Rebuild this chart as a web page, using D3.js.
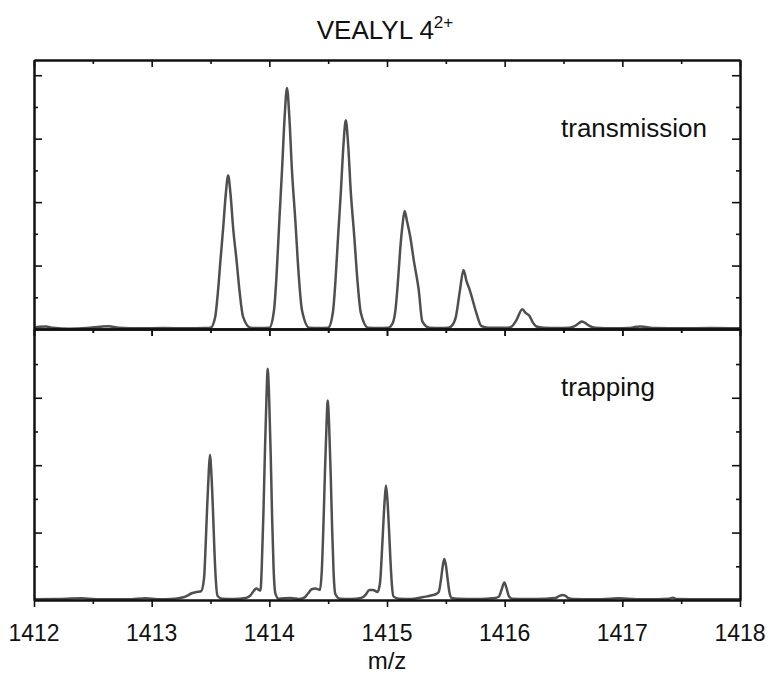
<!DOCTYPE html>
<html>
<head>
<meta charset="utf-8">
<script src="https://cdn.jsdelivr.net/npm/d3@7"></script>
<style>
  body { margin: 0; background: #fff; }
  text { font-family: "Liberation Sans", Arial, sans-serif; fill: #111; }
</style>
</head>
<body>
<div id="chart"></div>
<script>
// m/z values and intensities (arbitrary units)
const transMz = [
  1412.00, 1412.05, 1412.10, 1412.16, 1412.30, 1412.45, 1412.56, 1412.63, 1412.72, 1412.90,
  1413.10, 1413.30, 1413.45,
  1413.50, 1413.54, 1413.562, 1413.585, 1413.608, 1413.63, 1413.65, 1413.67, 1413.692, 1413.721, 1413.749, 1413.777, 1413.84, 1413.92,
  1414.00, 1414.04, 1414.062, 1414.085, 1414.108, 1414.13, 1414.15, 1414.17, 1414.192, 1414.221, 1414.249, 1414.277, 1414.34, 1414.42,
  1414.50, 1414.54, 1414.562, 1414.585, 1414.608, 1414.63, 1414.65, 1414.67, 1414.692, 1414.721, 1414.749, 1414.777, 1414.84, 1414.92,
  1415.01, 1415.05, 1415.072, 1415.095, 1415.112, 1415.132, 1415.15, 1415.17, 1415.198, 1415.227, 1415.27, 1415.30, 1415.36, 1415.45,
  1415.52, 1415.55, 1415.585, 1415.62, 1415.65, 1415.675, 1415.704, 1415.76, 1415.80, 1415.86,
  1416.03, 1416.06, 1416.10, 1416.15, 1416.18, 1416.21, 1416.24, 1416.27, 1416.33, 1416.45,
  1416.55, 1416.59, 1416.63, 1416.655, 1416.68, 1416.72, 1416.77, 1416.95,
  1417.05, 1417.12, 1417.15, 1417.20, 1417.28, 1417.50, 1417.75, 1418.00
];
const transInt = [
  0.02, 0.035, 0.04, 0.02, 0.005, 0.015, 0.035, 0.045, 0.02, 0.01,
  0.015, 0.01, 0.015,
  0.02, 0.19, 0.56, 1.09, 1.60, 2.13, 2.42, 2.13, 1.60, 1.09, 0.56, 0.19, 0.02, 0.015,
  0.02, 0.30, 0.87, 1.71, 2.51, 3.34, 3.80, 3.34, 2.51, 1.71, 0.87, 0.30, 0.02, 0.015,
  0.02, 0.26, 0.76, 1.48, 2.17, 2.90, 3.29, 2.90, 2.17, 1.48, 0.76, 0.26, 0.02, 0.015,
  0.02, 0.10, 0.30, 0.80, 1.25, 1.64, 1.86, 1.70, 1.45, 1.09, 0.61, 0.12, 0.02, 0.015,
  0.02, 0.05, 0.19, 0.61, 0.93, 0.76, 0.61, 0.25, 0.05, 0.02,
  0.02, 0.04, 0.14, 0.31, 0.25, 0.21, 0.10, 0.04, 0.02, 0.015,
  0.02, 0.04, 0.09, 0.12, 0.10, 0.05, 0.02, 0.01,
  0.015, 0.035, 0.04, 0.03, 0.015, 0.01, 0.015, 0.01
];

const trapMz = [
  1412.00, 1412.20, 1412.40, 1412.46, 1412.60, 1412.80, 1412.95, 1413.05, 1413.20, 1413.27,
  1413.30, 1413.34, 1413.38, 1413.42,
  1413.445, 1413.459, 1413.472, 1413.485, 1413.495, 1413.507, 1413.521, 1413.533, 1413.545, 1413.56,
  1413.60, 1413.70, 1413.80, 1413.84, 1413.87, 1413.89, 1413.91, 1413.925,
  1413.936, 1413.950, 1413.963, 1413.976, 1413.986, 1413.998, 1414.012, 1414.024, 1414.036, 1414.051,
  1414.08, 1414.18, 1414.25, 1414.30, 1414.33, 1414.36, 1414.39, 1414.43,
  1414.446, 1414.460, 1414.473, 1414.486, 1414.496, 1414.508, 1414.522, 1414.534, 1414.546, 1414.561,
  1414.60, 1414.70, 1414.78, 1414.82, 1414.85, 1414.88, 1414.92,
  1414.941, 1414.955, 1414.968, 1414.981, 1414.991, 1415.003, 1415.017, 1415.029, 1415.041, 1415.056,
  1415.10, 1415.20, 1415.30, 1415.33, 1415.38, 1415.42,
  1415.44, 1415.46, 1415.475, 1415.487, 1415.50, 1415.516, 1415.53, 1415.55,
  1415.60, 1415.75, 1415.85, 1415.92,
  1415.95, 1415.975, 1415.997, 1416.015, 1416.035, 1416.06,
  1416.20, 1416.35, 1416.43, 1416.465, 1416.49, 1416.515, 1416.54, 1416.58,
  1416.75, 1416.90, 1416.97, 1417.04, 1417.20, 1417.40, 1417.43, 1417.46, 1417.70, 1418.00
];
const trapInt = [
  0.01, 0.015, 0.025, 0.02, 0.01, 0.01, 0.025, 0.01, 0.02, 0.04,
  0.06, 0.10, 0.12, 0.13,
  0.32, 0.82, 1.40, 1.89, 2.15, 1.89, 1.33, 0.75, 0.30, 0.06,
  0.02, 0.015, 0.03, 0.07, 0.14, 0.17, 0.15, 0.14,
  0.51, 1.30, 2.23, 3.02, 3.43, 3.02, 2.13, 1.20, 0.48, 0.10,
  0.02, 0.03, 0.015, 0.04, 0.10, 0.16, 0.17, 0.15,
  0.44, 1.12, 1.92, 2.60, 2.96, 2.60, 1.84, 1.04, 0.41, 0.09,
  0.02, 0.015, 0.03, 0.08, 0.15, 0.15, 0.12,
  0.26, 0.65, 1.10, 1.50, 1.70, 1.50, 1.05, 0.60, 0.24, 0.05,
  0.02, 0.015, 0.04, 0.05, 0.07, 0.09,
  0.12, 0.32, 0.52, 0.61, 0.52, 0.30, 0.12, 0.03,
  0.02, 0.015, 0.02, 0.03,
  0.05, 0.16, 0.26, 0.18, 0.06, 0.02,
  0.015, 0.02, 0.03, 0.06, 0.075, 0.065, 0.03, 0.015,
  0.01, 0.02, 0.025, 0.02, 0.01, 0.02, 0.035, 0.015, 0.01, 0.01
];

const xTicks = [1412, 1413, 1414, 1415, 1416, 1417, 1418];
const xMinor = [1412.5, 1413.5, 1414.5, 1415.5, 1416.5, 1417.5];
const yMajor = [1, 2, 3, 4];
const yMinor = [0.5, 1.5, 2.5, 3.5];

const titleText = "VEALYL 4";
const titleSup = "2+";
const xLabel = "m/z";
const panelLabels = ["transmission", "trapping"];

const width = 769, height = 680;
const left = 34, right = 740;
const topY = 60, midY = 329, botY = 600;

const svg = d3.select("#chart").append("svg")
    .attr("width", width)
    .attr("height", height);

const x = d3.scaleLinear().domain([1412, 1418]).range([left, right]);
const yTop = d3.scaleLinear().domain([0, 4.24]).range([midY, topY]);
const yBot = d3.scaleLinear().domain([0, 4.02]).range([botY, midY]);

const panels = [
    { y: yTop, mz: transMz, val: transInt, label: panelLabels[0], ly: 137 },
    { y: yBot, mz: trapMz, val: trapInt, label: panelLabels[1], ly: 396 }
];

panels.forEach(function(p) {
    const pts = p.mz.map(function(m, i) { return [m, p.val[i]]; });
    const line = d3.line()
        .x(function(d) { return x(d[0]); })
        .y(function(d) { return p.y(d[1]); })
        .curve(d3.curveMonotoneX);

    svg.append("path")
        .datum(pts)
        .attr("d", line)
        .attr("fill", "none")
        .attr("stroke", "#4f4f4f")
        .attr("stroke-width", 2.5)
        .attr("stroke-linejoin", "round");

    const y0 = p.y.range()[0], y1 = p.y.range()[1];

    // x ticks on top and bottom edges, all pointing downward
    svg.append("g").attr("transform", `translate(0,${y1})`)
        .call(d3.axisTop(x).tickValues(xTicks).tickSize(-7).tickSizeOuter(0).tickFormat(""));
    svg.append("g").attr("transform", `translate(0,${y1})`)
        .call(d3.axisTop(x).tickValues(xMinor).tickSize(-4).tickSizeOuter(0).tickFormat(""));
    svg.append("g").attr("transform", `translate(0,${y0})`)
        .call(d3.axisBottom(x).tickValues(xTicks).tickSize(7).tickSizeOuter(0).tickFormat(""));
    svg.append("g").attr("transform", `translate(0,${y0})`)
        .call(d3.axisBottom(x).tickValues(xMinor).tickSize(4).tickSizeOuter(0).tickFormat(""));

    // y ticks, inward on both sides
    const maj = yMajor.filter(function(v) { return p.y(v) > y1 + 2; });
    svg.append("g").attr("transform", `translate(${left},0)`)
        .call(d3.axisLeft(p.y).tickValues(maj).tickSize(-8).tickSizeOuter(0).tickFormat(""));
    svg.append("g").attr("transform", `translate(${left},0)`)
        .call(d3.axisLeft(p.y).tickValues(yMinor).tickSize(-4).tickSizeOuter(0).tickFormat(""));
    svg.append("g").attr("transform", `translate(${right},0)`)
        .call(d3.axisRight(p.y).tickValues(maj).tickSize(-8).tickSizeOuter(0).tickFormat(""));
    svg.append("g").attr("transform", `translate(${right},0)`)
        .call(d3.axisRight(p.y).tickValues(yMinor).tickSize(-4).tickSizeOuter(0).tickFormat(""));

    svg.append("text")
        .attr("x", 561)
        .attr("y", p.ly)
        .attr("font-size", 26)
        .text(p.label);
});

svg.selectAll(".domain").attr("stroke", "#111").attr("stroke-width", 2);
svg.selectAll(".tick line").attr("stroke", "#111").attr("stroke-width", 1.6);

// x tick labels under the lower panel
svg.append("g").selectAll("text")
    .data(xTicks).enter()
    .append("text")
        .attr("x", function(d) { return x(d); })
        .attr("y", 641)
        .attr("text-anchor", "middle")
        .attr("font-size", 23)
        .text(function(d) { return d; });

svg.append("text")
    .attr("x", (left + right) / 2)
    .attr("y", 669)
    .attr("text-anchor", "middle")
    .attr("font-size", 24)
    .text(xLabel);

const title = svg.append("text")
    .attr("x", 385)
    .attr("y", 39)
    .attr("text-anchor", "middle")
    .attr("font-size", 26);
title.append("tspan").text(titleText);
title.append("tspan")
    .attr("dy", -11)
    .attr("font-size", 17)
    .text(titleSup);
</script>
</body>
</html>
